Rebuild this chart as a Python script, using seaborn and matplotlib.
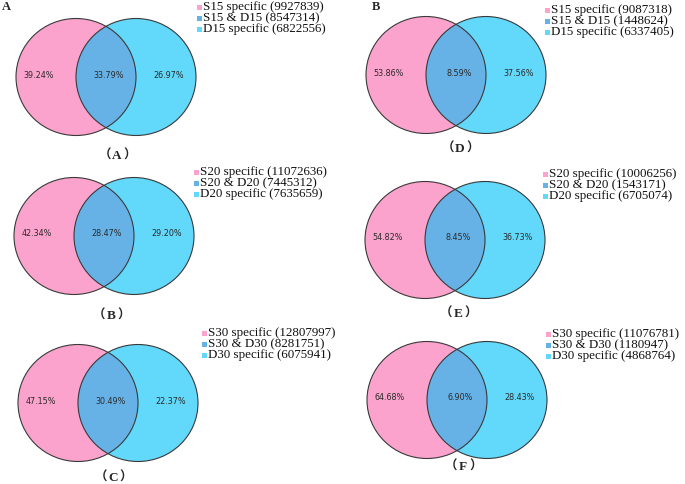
import matplotlib
matplotlib.use("Agg")
import matplotlib.pyplot as plt
from matplotlib.patches import Ellipse, Rectangle
import seaborn as sns

# Dados dos seis diagramas de Venn
paineis = ["A", "B", "C", "D", "E", "F"]
amostra_s = ["S15", "S20", "S30", "S15", "S20", "S30"]
amostra_d = ["D15", "D20", "D30", "D15", "D20", "D30"]
so_s = [9927839, 11072636, 12807997, 9087318, 10006256, 11076781]
comum = [8547314, 7445312, 8281751, 1448624, 1543171, 1180947]
so_d = [6822556, 7635659, 6075941, 6337405, 6705074, 4868764]

sns.set_theme(style="white")
cores = sns.color_palette(["#FBA3CC", "#66B2E6", "#62D8FA"])

# posições de cada painel (em pixels da figura)
centro_esq = [(76, 77), (74, 236), (78, 403), (426, 75), (425, 240), (427, 400)]
legenda_pos = [(200, 7), (197, 172), (205, 333), (548, 10), (546, 174), (549, 334)]
rotulo_pos = [(117, 155), (111, 315), (113, 477), (460, 148), (458, 313), (463, 466)]

fig = plt.figure(figsize=(6.85, 4.84), dpi=100)
ax = fig.add_axes([0, 0, 1, 1])
ax.set_xlim(0, 685)
ax.set_ylim(484, 0)
ax.axis("off")

rx, ry, dist = 60, 58.5, 60

for i, p in enumerate(paineis):
    cx, cy = centro_esq[i]
    esq = Ellipse((cx, cy), 2 * rx, 2 * ry, facecolor=cores[0], edgecolor="none")
    dir_ = Ellipse((cx + dist, cy), 2 * rx, 2 * ry, facecolor=cores[2], edgecolor="none")
    ax.add_patch(esq)
    ax.add_patch(dir_)
    inter = Ellipse((cx + dist, cy), 2 * rx, 2 * ry, facecolor=cores[1], edgecolor="none")
    ax.add_patch(inter)
    inter.set_clip_path(esq)
    for c in (cx, cx + dist):
        ax.add_patch(Ellipse((c, cy), 2 * rx, 2 * ry, facecolor="none",
                             edgecolor="#3a3a3a", lw=0.8))

    total = so_s[i] + comum[i] + so_d[i]
    pct = [so_s[i] / total, comum[i] / total, so_d[i] / total]
    for off, v in zip([-37, 33, 93], pct):
        ax.text(cx + off, cy - 2, f"{v * 100:.2f}%", ha="center", va="center",
                fontsize=5.8, family="DejaVu Sans", color="#2a2a2a")

    # legenda
    lx, ly = legenda_pos[i]
    textos = [f"{amostra_s[i]} specific ({so_s[i]})",
              f"{amostra_s[i]} & {amostra_d[i]} ({comum[i]})",
              f"{amostra_d[i]} specific ({so_d[i]})"]
    for k, t in enumerate(textos):
        y = ly + 11 * k
        ax.add_patch(Rectangle((lx - 2.5, y - 2.5), 5, 5, facecolor=cores[k], edgecolor="none"))
        ax.text(lx + 3, y, t, ha="left", va="center", fontsize=9.4,
                family="Liberation Serif", color="#111111")

    # rótulo do painel com parênteses de largura total
    rxp, ryp = rotulo_pos[i]
    ax.text(rxp - 6, ryp, "（", ha="right", va="center", fontsize=9,
            family="Noto Sans CJK SC", weight="bold")
    ax.text(rxp + 6, ryp, "）", ha="left", va="center", fontsize=9,
            family="Noto Sans CJK SC", weight="bold")
    ax.text(rxp, ryp + 1, p, ha="center", va="center", fontsize=9.5, weight="bold",
            family="Liberation Serif")

ax.text(6, 7, "A", ha="center", va="center", fontsize=9, weight="bold", family="Liberation Serif")
ax.text(376, 7, "B", ha="center", va="center", fontsize=9, weight="bold", family="Liberation Serif")

fig.savefig("out.png", dpi=100)
